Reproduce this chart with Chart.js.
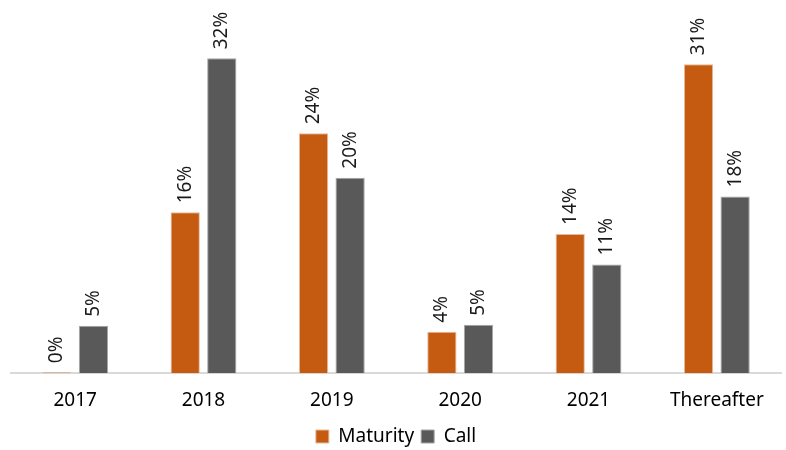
<!DOCTYPE html>
<html>
<head>
<meta charset="utf-8">
<script src="https://cdn.jsdelivr.net/npm/chart.js@4"></script>
<style>
  body { margin: 0; background: #fff; }
  #wrap { width: 786px; height: 450px; }
</style>
</head>
<body>
<div id="wrap"><canvas id="myChart"></canvas></div>
<script>
const categories = ['2017', '2018', '2019', '2020', '2021', 'Thereafter'];
const maturity = [0.1, 16.3, 24.3, 4.2, 14.1, 31.3];
const call = [4.8, 31.9, 19.8, 4.9, 11.0, 17.9];
const labelsMaturity = ['0%', '16%', '24%', '4%', '14%', '31%'];
const labelsCall = ['5%', '32%', '20%', '5%', '11%', '18%'];

// draws the rotated value labels above each bar
const barLabels = {
    id: 'barLabels',
    afterDatasetsDraw(chart) {
        const ctx = chart.ctx;
        const texts = [labelsMaturity, labelsCall];
        chart.data.datasets.forEach(function(ds, i) {
            chart.getDatasetMeta(i).data.forEach(function(bar, j) {
                ctx.save();
                ctx.translate(bar.x, bar.y - 9);
                ctx.rotate(-Math.PI / 2);
                ctx.font = '19px "Noto Sans"';
                ctx.fillStyle = '#1a1a1a';
                ctx.textAlign = 'left';
                ctx.textBaseline = 'middle';
                ctx.fillText(texts[i][j], 0, 0);
                ctx.restore();
            });
        });
    }
};

const ctx = document.getElementById('myChart');
const myChart = new Chart(ctx, {
    type: 'bar',
    data: {
        labels: categories,
        datasets: [{
            label: 'Maturity',
            data: maturity,
            backgroundColor: '#C55A11',
            borderColor: '#e8b89a',
            borderWidth: 1,
            categoryPercentage: 0.57,
            barPercentage: 0.8
        }, {
            label: 'Call',
            data: call,
            backgroundColor: '#595959',
            borderColor: '#a6a6a6',
            borderWidth: 1,
            categoryPercentage: 0.57,
            barPercentage: 0.8
        }]
    },
    options: {
        responsive: true,
        maintainAspectRatio: false,
        animation: false,
        layout: { padding: { left: 11, right: 5, top: 0, bottom: -6 } },
        scales: {
            x: {
                grid: { display: false },
                border: { color: '#d9d9d9', width: 2 },
                ticks: { color: '#000', font: { family: 'Noto Sans', size: 19 }, padding: 8 }
            },
            y: {
                display: false,
                min: 0,
                max: 37.8
            }
        },
        plugins: {
            legend: {
                position: 'bottom',
                labels: {
                    color: '#000',
                    font: { family: 'Noto Sans', size: 19 },
                    boxWidth: 13,
                    boxHeight: 13,
                    padding: 7
                }
            },
            tooltip: { enabled: false }
        }
    },
    plugins: [barLabels]
});
</script>
</body>
</html>
